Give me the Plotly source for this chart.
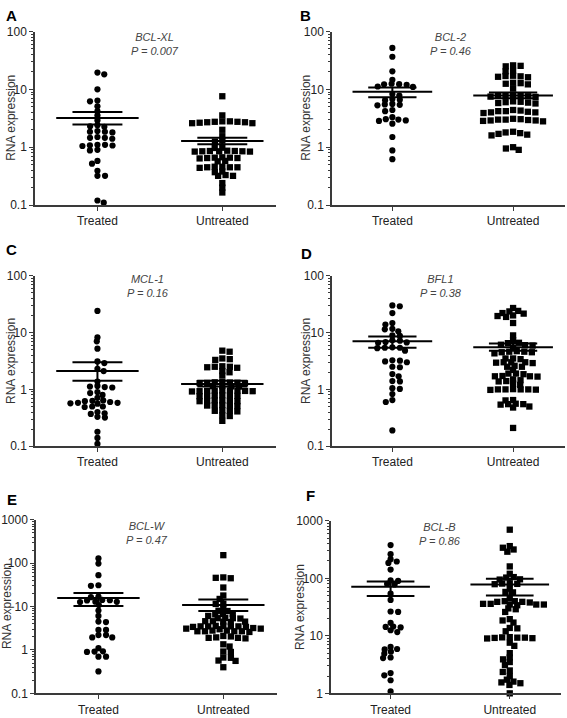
import numpy as np
import plotly.graph_objects as go

# ---------------- data ----------------
groups = ["Treated", "Untreated"]
genes = ["BCL-XL", "BCL-2", "MCL-1", "BFL1", "BCL-W", "BCL-B"]
p_values = ["0.007", "0.46", "0.16", "0.38", "0.47", "0.86"]
panel_letters = ["A", "B", "C", "D", "E", "F"]

bclxl_treated = [19.5, 18.2, 10.0, 6.4, 6.2, 5.1, 4.2, 3.55, 2.9, 2.4, 2.3, 2.25, 1.9, 1.85, 1.85, 1.8,
                 1.5, 1.45, 1.45, 1.4, 1.1, 1.08, 1.07, 1.05, 1.1, 0.9, 0.88, 0.58, 0.52, 0.39, 0.32,
                 0.32, 0.11, 0.12]
bclxl_untreated = [7.6, 3.55, 2.8, 2.75, 2.7, 2.65, 2.6, 2.6, 2.7, 2.75, 2.8, 2.0, 1.55, 1.25, 1.3,
                   0.97, 0.98, 0.86, 0.85, 0.84, 0.86, 0.85, 0.87, 0.84, 0.85, 0.66, 0.65, 0.67, 0.66,
                   0.65, 0.64, 0.58, 0.57, 0.45, 0.46, 0.45, 0.44, 0.45, 0.46, 0.38, 0.37, 0.32, 0.33,
                   0.32, 0.24, 0.2, 0.165]

bcl2_treated = [52, 36.6, 20.5, 14.6, 12.5, 12.2, 12.0, 12.3, 11.0, 11.2, 8.3, 7.8, 6.8, 6.6, 6.5,
                5.5, 5.4, 5.3, 5.6, 4.4, 4.2, 3.3, 3.0, 2.9, 2.85, 3.05, 2.55, 1.5, 0.88, 0.62]
bcl2_untreated = [25, 25.5, 26, 21, 20.5, 17, 16.5, 16.8, 16.2, 17.2, 13, 12.5, 12.8, 12.2, 10.3,
                  8.0, 7.8, 7.6, 7.5, 7.7, 7.9, 7.4, 6.2, 6.0, 5.8, 5.7, 6.1, 5.9, 4.3, 4.2, 4.0,
                  4.1, 3.9, 4.2, 4.4, 4.0, 3.0, 2.95, 2.9, 2.85, 3.05, 2.9, 3.0, 2.8, 3.1, 1.85, 1.8,
                  1.7, 1.65, 1.6, 1.75, 1.0, 0.9, 0.95]

mcl1_treated = [24, 8.2, 7.0, 5.2, 3.1, 2.9, 2.3, 2.1, 1.37, 1.15, 1.12, 1.1, 1.08, 0.9, 0.86, 0.8,
                0.71, 0.64, 0.63, 0.62, 0.6, 0.58, 0.57, 0.56, 0.58, 0.5, 0.5, 0.49, 0.4, 0.38,
                0.37, 0.33, 0.32, 0.18, 0.14, 0.11]
mcl1_untreated = [4.8, 4.6, 3.4, 3.3, 3.5, 2.5, 2.45, 2.55, 2.4, 2.5, 2.1, 2.0, 1.75, 1.35, 1.32,
                  1.3, 1.33, 1.28, 1.31, 1.29, 1.15, 1.12, 1.14, 1.13, 0.95, 0.93, 0.96, 0.94, 0.92,
                  0.95, 0.94, 0.93, 0.96, 0.78, 0.77, 0.76, 0.78, 0.79, 0.77, 0.63, 0.64, 0.62,
                  0.63, 0.64, 0.62, 0.52, 0.53, 0.51, 0.52, 0.53, 0.42, 0.43, 0.41, 0.42, 0.35,
                  0.34, 0.28]

bfl1_treated = [30, 29, 22, 14.7, 13.8, 11.6, 11.4, 10.5, 8.9, 8.7, 7.3, 7.2, 6.8, 6.6, 6.7, 5.4,
                5.5, 5.3, 5.4, 4.8, 3.2, 3.1, 3.25, 3.0, 2.5, 2.45, 1.86, 1.7, 1.4, 1.38, 1.05,
                1.02, 0.83, 0.65, 0.6, 0.19]
bfl1_untreated = [27, 24, 23.5, 22, 21.5, 20, 19.5, 18.8, 14.7, 8.9, 7.3, 6.6, 6.5, 6.0, 6.1, 5.9,
                  5.4, 4.6, 4.5, 4.7, 4.6, 4.5, 4.3, 3.5, 3.4, 3.5, 3.0, 2.95, 3.0, 2.9, 3.0, 2.5,
                  2.6, 2.5, 2.2, 1.9, 1.85, 1.9, 1.7, 1.72, 1.68, 1.7, 1.5, 1.45, 1.4, 1.38, 1.27,
                  1.2, 1.0, 1.0, 0.99, 1.0, 1.01, 0.98, 1.0, 0.65, 0.64, 0.55, 0.54, 0.56, 0.55,
                  0.5, 0.48, 0.21]

bclw_treated = [129, 98, 53, 31, 30, 17, 16.5, 14.2, 14, 13.8, 13, 12.9, 12.7, 10.8, 8.1, 6.1, 4.5,
                4.4, 2.9, 2.9, 2.2, 2.2, 1.95, 1.95, 1.1, 0.93, 0.92, 0.9, 0.7, 0.7, 0.32]
bclw_untreated = [153, 47, 46, 45, 27.5, 18, 15, 11.7, 11.5, 9.4, 8.0, 7.9, 6.8, 6.7, 6.6, 6.1,
                  5.4, 5.5, 5.3, 5.4, 4.5, 4.6, 4.4, 4.5, 4.6, 3.5, 3.6, 3.4, 3.5, 3.5, 3.6, 3.4,
                  3.5, 3.1, 3.1, 3.0, 3.2, 2.7, 2.7, 2.8, 2.6, 2.7, 2.8, 2.7, 2.1, 2.05, 1.9, 1.9,
                  1.95, 1.85, 1.35, 1.2, 0.9, 0.92, 0.67, 0.66, 0.56, 0.57, 0.4]

bclb_treated = [378, 263, 215, 196, 185, 142, 92, 90, 80, 78, 54, 42, 26, 26.5, 16.8, 14.3, 14.5,
                14, 12.5, 11.6, 6.4, 5.9, 5.8, 5.3, 4.9, 4.1, 4.2, 2.25, 2.06, 1.69, 1.08]
bclb_untreated = [700, 363, 317, 340, 290, 161, 120, 105, 103, 96, 95, 82, 81, 80, 79, 66, 58, 57,
                  45, 39, 40, 38, 39, 40, 35, 36, 34, 35, 36, 35, 30, 29, 26, 19.5, 18.5, 17, 13.7,
                  13.5, 12, 9.3, 9.2, 9.4, 9.0, 9.3, 9.1, 9.5, 7.6, 6.7, 5.0, 4.2, 3.9, 3.5, 3.1,
                  2.5, 2.35, 2.0, 1.73, 1.6, 1.55, 1.5, 1.4, 1.0]

# mean and SEM bounds (treated, untreated)
mean_treated = [3.2, 9.1, 2.1, 7.0, 15.8, 71]
sem_hi_treated = [4.05, 10.8, 3.0, 8.5, 20.6, 88]
sem_lo_treated = [2.46, 7.3, 1.42, 5.4, 10.3, 49]
mean_untreated = [1.28, 7.8, 1.25, 5.5, 10.8, 78]
sem_hi_untreated = [1.45, 8.8, 1.42, 6.4, 14.5, 98]
sem_lo_untreated = [1.12, 7.0, 1.12, 4.8, 7.9, 50]

y_tick_values = [[0.1, 1, 10, 100]] * 4 + [[0.1, 1, 10, 100, 1000], [1, 10, 100, 1000]]
y_tick_labels = [["0.1", "1", "10", "100"]] * 4 + [["0.1", "1", "10", "100", "1000"],
                                                  ["1", "10", "100", "1000"]]

treated_sets = [bclxl_treated, bcl2_treated, mcl1_treated, bfl1_treated, bclw_treated, bclb_treated]
untreated_sets = [bclxl_untreated, bcl2_untreated, mcl1_untreated, bfl1_untreated, bclw_untreated,
                  bclb_untreated]

# ---------------- layout geometry (pixels) ----------------
W, H = 567, 718
# left, right, top, bottom of each plot area, log10 y range
panels = [
    dict(l=35, r=276, t=25, b=202, yr=(-1, 2)),
    dict(l=332, r=565, t=25, b=202, yr=(-1, 2)),
    dict(l=35, r=276, t=274, b=448, yr=(-1, 2)),
    dict(l=332, r=565, t=274, b=448, yr=(-1, 2)),
    dict(l=36, r=277, t=523, b=700, yr=(-1, 3)),
    dict(l=331, r=561, t=524, b=700, yr=(0, 3)),
]
letter_pos = [(11, 9), (305, 9), (11, 247), (306, 251), (12, 502), (310, 498)]
title_pos = [(155, 38), (451, 38), (148, 285), (441, 285), (147, 536), (440, 537)]
ytitle_pos = [(11, 113), (306, 113), (11, 361), (306, 361), (7, 611), (300, 612)]
XRANGE = (0.5, 2.43)
FONT = "Arial, Liberation Sans, sans-serif"
AX = "#3a3a3a"


def swarm(vals, px_per_dec, px_per_unit, sx=7.6, sy=4.0):
    """Deterministic beeswarm with an elliptical exclusion zone (Prism-like rows)."""
    y = np.log10(np.asarray(vals, float)) * px_per_dec
    order = np.argsort(-y)
    xs = np.zeros(len(y))
    placed = []
    flip = 1
    for i in order:
        near = [(px, py) for px, py in placed if abs(py - y[i]) < sy]
        cands = [0.0]
        for px, py in near:
            dx = sx * np.sqrt(max(1 - ((py - y[i]) / sy) ** 2, 0.0))
            cands += [px + dx, px - dx]
        cands.sort(key=lambda c: (round(abs(c), 3), flip * c))
        for c in cands:
            if all(((c - px) / sx) ** 2 + ((y[i] - py) / sy) ** 2 >= 1 - 1e-6 for px, py in near):
                xs[i] = c
                break
        placed.append((xs[i], y[i]))
        flip = -flip
    return xs / px_per_unit


def px(xp, yp):
    return xp / W, 1 - yp / H


fig = go.Figure()
annotations = []
layout_axes = {}

for k in range(6):
    g = panels[k]
    sfx = "" if k == 0 else str(k + 1)
    xa, ya = "x" + sfx, "y" + sfx
    px_per_dec = (g["b"] - g["t"]) / (g["yr"][1] - g["yr"][0])
    px_per_unit = (g["r"] - g["l"]) / (XRANGE[1] - XRANGE[0])

    for gi, (vals, sym) in enumerate([(treated_sets[k], "circle"), (untreated_sets[k], "square")]):
        off = swarm(vals, px_per_dec, px_per_unit)
        fig.add_trace(go.Scatter(
            x=(gi + 1) + off, y=vals, mode="markers", xaxis=xa, yaxis=ya,
            marker=dict(symbol=sym, size=6.2 if sym == "circle" else 6.3, color="black",
                        line=dict(width=0)),
            cliponaxis=False, showlegend=False, hoverinfo="y", name=groups[gi]))

    # mean +/- SEM
    for gi, (m, hi, lo) in enumerate([(mean_treated[k], sem_hi_treated[k], sem_lo_treated[k]),
                                      (mean_untreated[k], sem_hi_untreated[k], sem_lo_untreated[k])]):
        c = gi + 1
        fig.add_trace(go.Scatter(
            x=[c - 0.33, c + 0.33, None, c - 0.2, c + 0.2, None, c - 0.2, c + 0.2, None, c, c],
            y=[m, m, None, hi, hi, None, lo, lo, None, lo, hi],
            mode="lines", line=dict(color="black", width=2), xaxis=xa, yaxis=ya,
            cliponaxis=False, showlegend=False, hoverinfo="skip"))

    x0, y1 = px(g["l"], g["t"])
    x1, y0 = px(g["r"], g["b"])
    layout_axes["xaxis" + sfx] = dict(
        domain=[x0, x1], anchor=ya, range=list(XRANGE), tickmode="array", tickvals=[1, 2],
        ticktext=groups, ticks="outside", ticklen=4, tickwidth=1.2, tickcolor=AX,
        showline=True, linecolor=AX, linewidth=1.5, showgrid=False, zeroline=False,
        tickfont=dict(family=FONT, size=12, color="#222"), fixedrange=True)
    layout_axes["yaxis" + sfx] = dict(
        domain=[y0, y1], anchor=xa, type="log", range=list(g["yr"]), tickmode="array",
        tickvals=y_tick_values[k], ticktext=y_tick_labels[k], ticks="outside", ticklen=4,
        tickwidth=1.2, tickcolor=AX, showline=True, linecolor=AX, linewidth=1.5,
        showgrid=False, zeroline=False, tickfont=dict(family=FONT, size=12, color="#222"),
        minor=dict(ticks="outside", ticklen=2, tickwidth=1, tickcolor=AX, dtick="D1",
                   showgrid=False),
        fixedrange=True)

    lx, ly = px(*letter_pos[k])
    annotations.append(dict(x=lx, y=ly, xref="paper", yref="paper", text="<b>%s</b>" % panel_letters[k],
                            showarrow=False, xanchor="center", yanchor="middle",
                            font=dict(family=FONT, size=15, color="black")))
    tx, ty = px(*title_pos[k])
    annotations.append(dict(x=tx, y=ty, xref="paper", yref="paper",
                            text="<i>%s</i><br><i>P = %s</i>" % (genes[k], p_values[k]),
                            showarrow=False, xanchor="center", yanchor="middle",
                            font=dict(family=FONT, size=11, color="#444")))
    yx, yy = px(*ytitle_pos[k])
    annotations.append(dict(x=yx, y=yy, xref="paper", yref="paper", text="RNA expression",
                            textangle=-90, showarrow=False, xanchor="center", yanchor="middle",
                            font=dict(family=FONT, size=12, color="#333")))

fig.update_layout(width=W, height=H, autosize=False, margin=dict(l=0, r=0, t=0, b=0),
                  paper_bgcolor="white", plot_bgcolor="white", annotations=annotations,
                  showlegend=False, **layout_axes)

fig.write_html("out.html", config={"displayModeBar": False, "staticPlot": False},
               post_script="document.body.style.margin='0px';document.body.style.overflow='hidden';")
